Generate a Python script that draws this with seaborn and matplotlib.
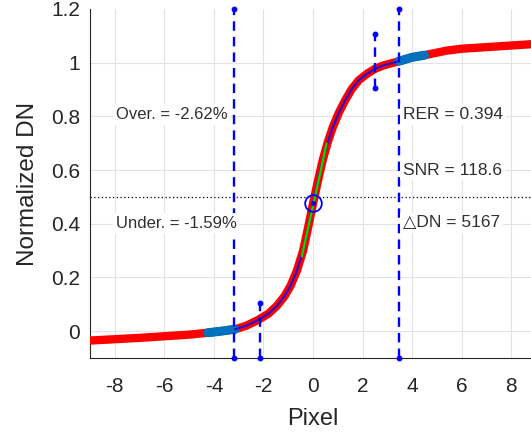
import seaborn as sns
import matplotlib.pyplot as plt
import pandas as pd

# edge spread function (pixel offset vs normalized DN)
esf_x = [-9.0, -8.0, -7.0, -6.0, -5.0, -4.25, -3.7, -3.15, -2.7, -2.25, -1.8, -1.45,
         -1.15, -0.9, -0.65, -0.4, -0.2, 0.0, 0.2, 0.4, 0.6, 0.8, 1.05, 1.3, 1.55,
         1.85, 2.2, 2.5, 2.85, 3.45, 4.0, 4.5, 5.4, 6.0, 7.0, 8.0, 9.0]
esf_y = [-0.035, -0.03, -0.025, -0.019, -0.013, -0.006, 0.0, 0.007, 0.02, 0.04, 0.065, 0.095,
         0.13, 0.17, 0.225, 0.3, 0.385, 0.475, 0.56, 0.64, 0.705, 0.76, 0.815, 0.86, 0.9,
         0.935, 0.96, 0.977, 0.99, 1.005, 1.02, 1.028, 1.045, 1.052, 1.058, 1.064, 1.07]

# flat regions used for the normalisation (blue)
dark_range = [-4.25, -3.15]
bright_range = [3.45, 4.5]

# edge limits and 10-90 markers
edge_left = -3.17
edge_right = 3.48
rise_x = [-2.13, 2.51]
rise_lo = [-0.1, 0.907]
rise_hi = [0.104, 1.108]

# slope line at the edge centre
slope_x = [-0.45, 0.55]
slope_y = [0.279, 0.699]
centre = (0.02, 0.476)

left_labels = ['Over. = -2.62%', 'Under. = -1.59%']
left_y = [0.806, 0.40]
right_labels = ['RER = 0.394', 'SNR = 118.6', '\u25b3DN = 5167']
right_y = [0.806, 0.60, 0.403]

df = pd.DataFrame({'x': esf_x, 'y': esf_y})
dark = df[(df.x >= dark_range[0]) & (df.x <= dark_range[1])]
bright = df[(df.x >= bright_range[0]) & (df.x <= bright_range[1])]
fit = df[(df.x >= edge_left) & (df.x <= edge_right)]

sns.set_style('white')
plt.rcParams['font.family'] = ['Liberation Sans', 'DejaVu Sans']
plt.rcParams['axes.unicode_minus'] = False
ink = '#262626'

fig = plt.figure(figsize=(5.31, 4.32), dpi=100)
ax = fig.add_axes([90 / 531, 74 / 432, 446 / 531, 349 / 432])

# measured data
sns.lineplot(data=df, x='x', y='y', ax=ax, color='#ff0000', lw=6,
             sort=False, estimator=None, zorder=3)
sns.lineplot(data=dark, x='x', y='y', ax=ax, color='#0072BD', lw=6.5,
             sort=False, estimator=None, zorder=4)
sns.lineplot(data=bright, x='x', y='y', ax=ax, color='#0072BD', lw=6.5,
             sort=False, estimator=None, zorder=4)
# fitted curve and slope
sns.lineplot(data=fit, x='x', y='y', ax=ax, color='#2a10c8', lw=1.6,
             sort=False, estimator=None, zorder=5)
ax.plot(slope_x, slope_y, color='#00e000', lw=1.6, zorder=6)
ax.plot(*centre, 'o', mfc='none', mec='#0000ff', ms=12, mew=1.3, zorder=7)
ax.plot(*centre, 'o', color='#0000ff', ms=2.5, zorder=7)

# 50% level
ax.axhline(0.5, color='black', lw=0.9, ls=(0, (1, 2)), zorder=2)

# edge limits
dash = (0, (4, 2.6))
for xv in [edge_left, edge_right]:
    ax.plot([xv, xv], [-0.1, 1.2], color='#0000ff', lw=1.7, ls=dash,
            marker='o', ms=3.2, clip_on=False, zorder=5)
for xv, lo, hi in zip(rise_x, rise_lo, rise_hi):
    ax.plot([xv, xv], [lo, hi], color='#0000ff', lw=1.7, ls=dash,
            marker='o', ms=3.2, clip_on=False, zorder=5)

box = dict(facecolor='white', edgecolor='none', pad=2)
for lab, yv in zip(left_labels, left_y):
    ax.text(-7.97, yv, lab, ha='left', va='center', fontsize=12, color='#303030',
            bbox=box, zorder=8)
for lab, yv in zip(right_labels, right_y):
    ax.text(3.64, yv, lab, ha='left', va='center', fontsize=12.5, color='#303030',
            bbox=box, zorder=8)

ax.set_xlim(-9, 9)
ax.set_ylim(-0.1, 1.2)
ax.set_xticks(range(-8, 9, 2))
ax.set_yticks([0, 0.2, 0.4, 0.6, 0.8, 1, 1.2])
ax.set_yticklabels(['0', '0.2', '0.4', '0.6', '0.8', '1', '1.2'])
ax.set_xlabel('Pixel', fontsize=17, color=ink, labelpad=8)
ax.set_ylabel('Normalized DN', fontsize=17.5, color=ink, labelpad=9)
ax.tick_params(axis='both', direction='in', length=4, width=0.8, color=ink,
               labelsize=15, labelcolor=ink)
ax.tick_params(axis='x', pad=14)
ax.tick_params(axis='y', pad=7)

ax.grid(True, color='#e3e3e3', lw=0.8, zorder=0)
ax.set_axisbelow(True)
ax.yaxis.get_gridlines()[-1].set_visible(False)
for side in ['top', 'right']:
    ax.spines[side].set_visible(False)
for side in ['left', 'bottom']:
    ax.spines[side].set_color(ink)
    ax.spines[side].set_linewidth(0.8)

fig.savefig('out.png', dpi=100)
